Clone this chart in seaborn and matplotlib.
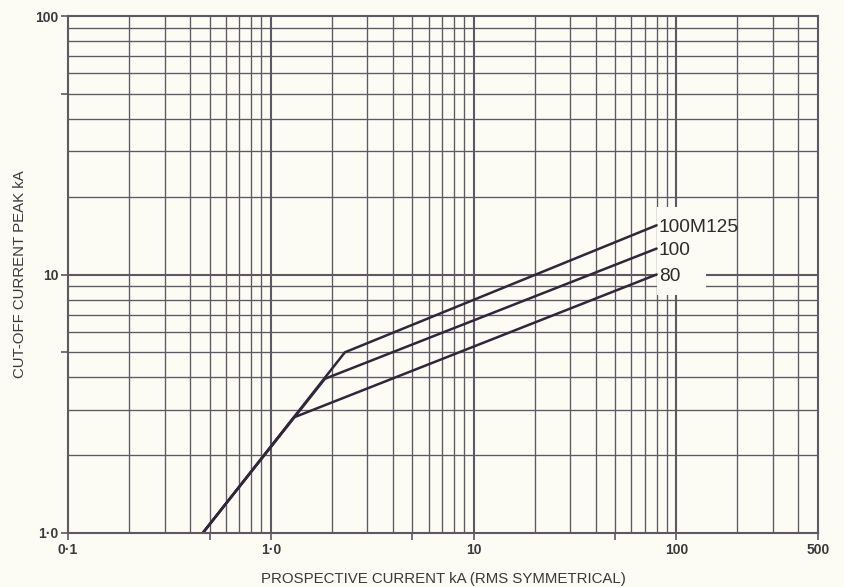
import matplotlib
matplotlib.use("Agg")
import matplotlib.pyplot as plt
import numpy as np
import pandas as pd
import seaborn as sns
from matplotlib.patches import Rectangle

# Cut-off characteristics: common let-through line, then a knee per rating
ratings = ["100M125", "100", "80"]
start_current = [0.462, 0.462, 0.462]
start_cutoff = [1.0, 1.0, 1.0]
knee_current = [2.32, 1.85, 1.30]
knee_cutoff = [5.0, 3.95, 2.8]
end_current = [80, 80, 80]
end_cutoff = [15.5, 12.6, 10.0]

x_tick_values = [0.1, 1, 10, 100, 500]
x_tick_labels = ["0·1", "1·0", "10", "100", "500"]
y_tick_values = [1, 10, 100]
y_tick_labels = ["1·0", "10", "100"]
x_half_ticks = [0.5, 5, 50]
y_half_ticks = [5, 50]

BG = "#fcfbf4"
GRID = "#5e5862"
INK = "#30283a"
TEXT = "#3a3a3a"

sns.set_theme(style="white")
plt.rcParams["font.family"] = ["Liberation Sans", "DejaVu Sans"]

rows = []
for i, r in enumerate(ratings):
    rows.append({"current": start_current[i], "cutoff": start_cutoff[i], "rating": r})
    rows.append({"current": knee_current[i], "cutoff": knee_cutoff[i], "rating": r})
    rows.append({"current": end_current[i], "cutoff": end_cutoff[i], "rating": r})
df = pd.DataFrame(rows)

fig = plt.figure(figsize=(8.45, 5.87), dpi=100, facecolor=BG)
ax = fig.add_axes([68 / 845, 1 - 533 / 587, 750 / 845, 517 / 587])
ax.set_facecolor(BG)
ax.set_xscale("log")
ax.set_yscale("log")
ax.set_xlim(0.1, 500)
ax.set_ylim(1, 100)

# Log-paper grid
x_minor = [m * 10.0 ** e for e in (-1, 0, 1) for m in range(2, 10)] + [200, 300, 400]
x_major = [1, 10, 100]
y_minor = [m * 10.0 ** e for e in (0, 1) for m in range(2, 10)]
y_major = [10]
for v in x_minor:
    ax.axvline(v, color=GRID, lw=0.95, zorder=1)
for v in x_major:
    ax.axvline(v, color=GRID, lw=1.5, zorder=1)
for v in y_minor:
    ax.axhline(v, color=GRID, lw=0.95, zorder=1)
for v in y_major:
    ax.axhline(v, color=GRID, lw=1.5, zorder=1)

# Clear patch behind the rating labels
ax.add_patch(Rectangle((80, 8.33), 140 - 80, 18.2 - 8.33, facecolor=BG,
                       edgecolor="none", zorder=2))

sns.lineplot(data=df, x="current", y="cutoff", hue="rating", units="rating",
             estimator=None, sort=False, palette={r: INK for r in ratings},
             legend=False, lw=1.8, ax=ax, zorder=3)

for i, r in enumerate(ratings):
    ax.annotate(r, (end_current[i], end_cutoff[i]), xytext=(1.5, 0),
                textcoords="offset points", ha="left", va="center_baseline",
                fontsize=13.8, color="#2c2c2c", zorder=4)

for s in ax.spines.values():
    s.set_color(GRID)
    s.set_linewidth(1.5)
    s.set_zorder(5)

ax.set_xticks(x_tick_values, x_tick_labels)
ax.set_yticks(y_tick_values, y_tick_labels)
ax.set_xticks(x_half_ticks, minor=True)
ax.set_yticks(y_half_ticks, minor=True)
ax.set_xticklabels([], minor=True)
ax.set_yticklabels([], minor=True)
ax.tick_params(which="both", direction="out", length=5, width=1.2, color=GRID,
               bottom=True, left=True, top=False, right=False)
ax.tick_params(which="major", labelsize=10, labelcolor=TEXT, pad=2)
for lab in ax.get_xticklabels() + ax.get_yticklabels():
    lab.set_fontweight("bold")

ax.set_xlabel("PROSPECTIVE CURRENT kA (RMS SYMMETRICAL)", fontsize=10.8,
              color=TEXT, labelpad=11)
ax.set_ylabel("CUT-OFF CURRENT PEAK kA", fontsize=10.8, color=TEXT, labelpad=6)

fig.savefig("out.png", dpi=100, facecolor=BG)
